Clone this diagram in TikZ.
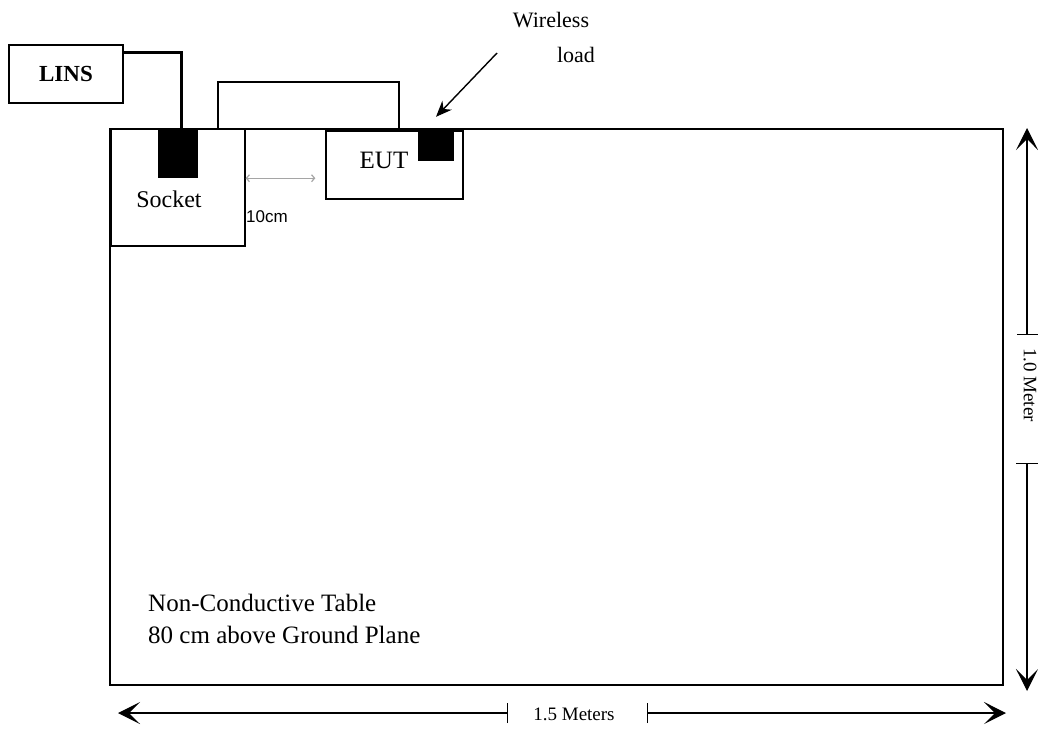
\documentclass[tikz,border=0pt]{standalone}
\usepackage{fontspec}
\setmainfont{Liberation Serif}
\newfontfamily\labelsans{Liberation Sans}
\usetikzlibrary{arrows.meta, positioning}
\definecolor{midgray}{RGB}{165,165,165}
\tikzset{
  box/.style={rectangle, draw=black, line width=1.3pt, fill=white,
              inner sep=0pt},
  block/.style={rectangle, fill=black, inner sep=0pt},
  lbl/.style={inner sep=0pt, font=\fontsize{25}{32}\selectfont},
  dimlbl/.style={inner sep=0pt, font=\fontsize{19}{22}\selectfont},
  cable/.style={line width=3pt},
  arrow/.style={-{Stealth[length=16pt, width=13pt]}, line width=1.4pt},
  dimline/.style={-{Stealth[length=22pt, width=22pt, inset=11pt]},
                  line width=1.2pt},
  gaparrow/.style={{Straight Barb[length=3pt, width=7pt]}-{Straight Barb[length=3pt, width=7pt]},
                   draw=midgray, line width=1.2pt},
}

\begin{document}
\begin{tikzpicture}[x=1pt, y=-1pt]
  \useasboundingbox (0,0) rectangle (1038,729);

  % Table
  \node[box, line width=2pt, minimum width=893pt, minimum height=556pt]
    (table) at (556.5,407) {};
  \node[lbl, align=left, anchor=north west] (tablelbl) at (148,594)
    {Non-Conductive Table\\80 cm above Ground Plane};

  % LINS and socket
  \node[box, minimum width=114pt, minimum height=58pt] (lins) at (66,74) {};
  \node[lbl, font=\bfseries\fontsize{23}{28}\selectfont] at (lins) {LINS};
  \node[box, minimum width=134pt, minimum height=117pt] (socket) at (178,187.5) {};
  \node[block, minimum width=40pt, minimum height=49pt] (plug) at (178,153.5) {};
  \node[lbl, font=\fontsize{24}{28}\selectfont] (socketlbl) at (169,199) {Socket};
  \draw[cable] ([yshift=-8pt]lins.north east) -| ([xshift=3pt]plug.north);

  % EUT with wireless load
  \node[box, minimum width=181pt, minimum height=47pt] (pad) at (308.5,105.5) {};
  \node[box, minimum width=137pt, minimum height=68pt] (eut) at (394.5,165) {};
  \node[lbl] (eutlbl) at (384,160) {EUT};
  \node[block, minimum width=36pt, minimum height=31pt] (load) at (436,145.5) {};
  \node[lbl, font=\fontsize{22}{28}\selectfont] (wlbl) at (551,20) {Wireless};
  \node[lbl, font=\fontsize{22}{28}\selectfont] (loadlbl) at (576,55) {load};
  \coordinate (wltail) at (497,53);
  \draw[arrow] (wltail) -- ([yshift=13pt]load.north);

  % 10 cm gap
  \draw[gaparrow, shorten >=10pt] (socket.east |- plug.south) -- (eut.west |- plug.south);
  \node[inner sep=0pt, anchor=north west, font=\labelsans\fontsize{17}{20}\selectfont]
    (gaplbl) at (246,210) {10cm};

  % Dimensions
  \coordinate (vtop) at (1027,128);
  \coordinate (vtick1) at (1027,334);
  \coordinate (vtick2) at (1027,463);
  \coordinate (vbot) at (1027,691);
  \draw[dimline] (vtick1) -- (vtop);
  \draw[dimline] (vtick2) -- (vbot);
  \draw[line width=1pt] ([xshift=-10pt]vtick1) -- ([xshift=11pt]vtick1);
  \draw[line width=1pt] ([xshift=-11pt]vtick2) -- ([xshift=11pt]vtick2);
  \node[dimlbl, rotate=-90] (vlbl) at (1030,385) {1.0 Meter};

  \coordinate (hleft) at (118,713);
  \coordinate (htick1) at (507,713);
  \coordinate (htick2) at (647,713);
  \coordinate (hright) at (1006,713);
  \draw[dimline] (htick1) -- (hleft);
  \draw[dimline] (htick2) -- (hright);
  \draw[line width=1pt] ([yshift=-10pt]htick1) -- ([yshift=10pt]htick1);
  \draw[line width=1pt] ([yshift=-10pt]htick2) -- ([yshift=10pt]htick2);
  \node[dimlbl] (hlbl) at (574,714) {1.5 Meters};
\end{tikzpicture}
\end{document}
